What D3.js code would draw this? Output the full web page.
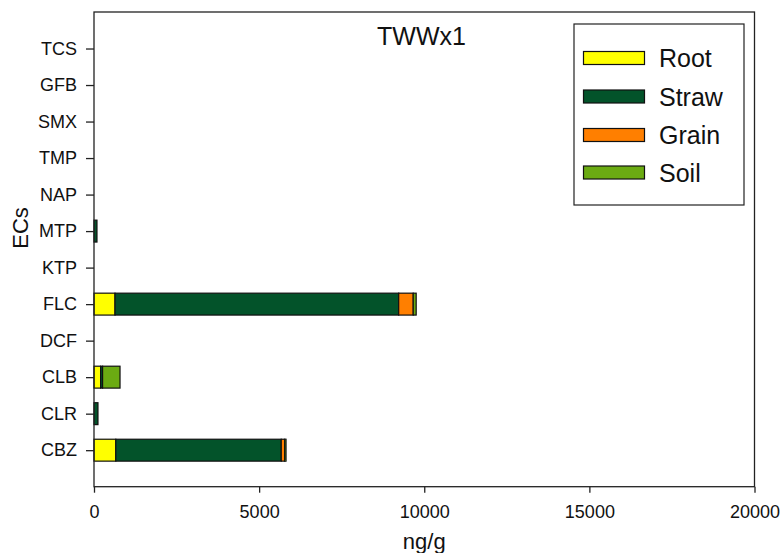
<!DOCTYPE html>
<html>
<head>
<meta charset="utf-8">
<script src="https://cdn.jsdelivr.net/npm/d3@7"></script>
<style>
  body { margin: 0; background: #fff; }
  svg { display: block; font-family: "Liberation Sans", Arial, sans-serif; }
</style>
</head>
<body>
<svg id="chart" width="780" height="553"></svg>
<script>
// Compounds, bottom to top
const categories = ["CBZ", "CLR", "CLB", "DCF", "FLC", "KTP", "MTP", "NAP", "TMP", "SMX", "GFB", "TCS"];
// Concentration in each compartment (ng/g)
const root  = [660,   0, 200, 0,  636, 0,  0, 0, 0, 0, 0, 0];
const straw = [5010, 120,  60, 0, 8590, 0, 90, 0, 0, 0, 0, 0];
const grain = [105,   0,   0, 0,  440, 0,  0, 0, 0, 0, 0, 0];
const soil  = [40,    0, 528, 0,   90, 0,  0, 0, 0, 0, 0, 0];
const seriesNames = ["Root", "Straw", "Grain", "Soil"];
const seriesColors = ["#ffff00", "#03532a", "#ff7f00", "#6bab12"];
const xTicks = [0, 5000, 10000, 15000, 20000];
const title = "TWWx1";

const svg = d3.select("#chart");
const plotLeft = 94, plotRight = 754.5, plotTop = 12, plotBottom = 486.7;

const x = d3.scaleLinear().domain([0, 20000]).range([plotLeft, plotRight]);
// one slot per compound plus half a slot of padding at each end
const y = d3.scaleLinear().domain([0, categories.length + 1]).range([plotBottom, plotTop]);
const slot = (plotBottom - plotTop) / (categories.length + 1);
const barH = slot * 0.6;

const table = categories.map((c, i) => ({
  cat: c, Root: root[i], Straw: straw[i], Grain: grain[i], Soil: soil[i]
}));
const stacked = d3.stack().keys(seriesNames)(table);

const gBars = svg.append("g");
stacked.forEach((layer, k) => {
  gBars.selectAll(null)
    .data(layer.filter(d => d[1] - d[0] > 0))
    .join("rect")
    .attr("x", d => x(d[0]))
    .attr("width", d => x(d[1]) - x(d[0]))
    .attr("y", d => y(categories.indexOf(d.data.cat) + 1) - barH / 2)
    .attr("height", barH)
    .attr("fill", seriesColors[k])
    .attr("stroke", "#111")
    .attr("stroke-width", 1.2);
});

// frame
svg.append("rect")
  .attr("x", plotLeft).attr("y", plotTop)
  .attr("width", plotRight - plotLeft).attr("height", plotBottom - plotTop)
  .attr("fill", "none").attr("stroke", "#222").attr("stroke-width", 1.3);

// x axis
const xAxis = svg.append("g").attr("transform", `translate(0,${plotBottom})`)
  .call(d3.axisBottom(x).tickValues(xTicks).tickFormat(d3.format("d")).tickSize(6).tickPadding(13));
xAxis.select(".domain").remove();
xAxis.selectAll("line").attr("stroke", "#222").attr("stroke-width", 1.3);
xAxis.selectAll("text").attr("font-size", 18).attr("fill", "#111")
  .attr("font-family", "Liberation Sans, Arial, sans-serif");

// y axis
const yAxis = svg.append("g").attr("transform", `translate(${plotLeft},0)`)
  .call(d3.axisLeft(y).tickValues(d3.range(1, categories.length + 1))
    .tickFormat(d => categories[d - 1]).tickSize(8).tickPadding(9));
yAxis.select(".domain").remove();
yAxis.selectAll("line").attr("stroke", "#222").attr("stroke-width", 1.3);
yAxis.selectAll("text").attr("font-size", 18).attr("fill", "#111")
  .attr("font-family", "Liberation Sans, Arial, sans-serif");

// axis titles
svg.append("text").attr("x", (plotLeft + plotRight) / 2).attr("y", 549)
  .attr("text-anchor", "middle").attr("font-size", 22).attr("fill", "#111").text("ng/g");
svg.append("text").attr("transform", "translate(28,228) rotate(-90)")
  .attr("text-anchor", "middle").attr("font-size", 22).attr("fill", "#111").text("ECs");

// title
svg.append("text").attr("x", 421.5).attr("y", 45)
  .attr("text-anchor", "middle").attr("font-size", 25).attr("fill", "#111").text(title);

// legend
const lg = svg.append("g");
lg.append("rect").attr("x", 574).attr("y", 24).attr("width", 170).attr("height", 181)
  .attr("fill", "#fff").attr("stroke", "#222").attr("stroke-width", 1.2);
const legendY = [58, 96.5, 135, 172.5];
seriesNames.forEach((name, i) => {
  lg.append("rect").attr("x", 583.5).attr("y", legendY[i] - 6.5)
    .attr("width", 61).attr("height", 13)
    .attr("fill", seriesColors[i]).attr("stroke", "#111").attr("stroke-width", 1.2);
  lg.append("text").attr("x", 659).attr("y", legendY[i]).attr("dy", "0.36em")
    .attr("font-size", 25).attr("fill", "#111").text(name);
});
</script>
</body>
</html>
